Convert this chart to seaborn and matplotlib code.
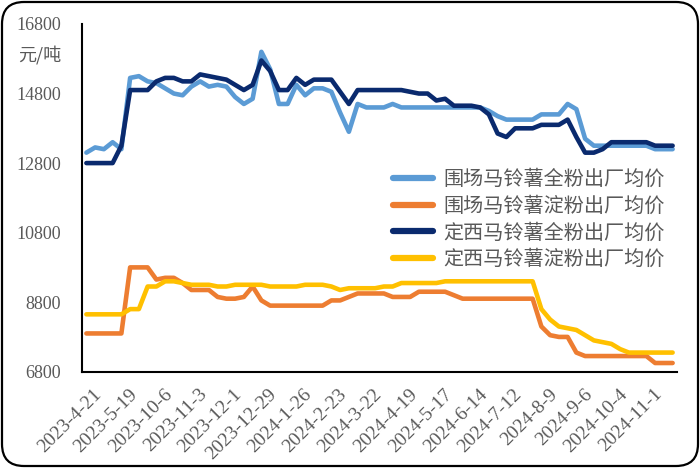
import numpy as np
import pandas as pd
import seaborn as sns
import matplotlib
matplotlib.use("Agg")
import matplotlib.pyplot as plt
from matplotlib.patches import FancyBboxPatch
from matplotlib.transforms import IdentityTransform, ScaledTranslation

dates = [
    "2023-4-21", "2023-4-28", "2023-5-5", "2023-5-12", "2023-5-19", "2023-5-26", "2023-6-2", "2023-9-28",
    "2023-10-6", "2023-10-13", "2023-10-20", "2023-10-27", "2023-11-3", "2023-11-10", "2023-11-17", "2023-11-24",
    "2023-12-1", "2023-12-8", "2023-12-15", "2023-12-22", "2023-12-29", "2024-1-5", "2024-1-12", "2024-1-19",
    "2024-1-26", "2024-2-2", "2024-2-9", "2024-2-16", "2024-2-23", "2024-3-1", "2024-3-8", "2024-3-15",
    "2024-3-22", "2024-3-29", "2024-4-5", "2024-4-12", "2024-4-19", "2024-4-26", "2024-5-3", "2024-5-10",
    "2024-5-17", "2024-5-24", "2024-5-31", "2024-6-7", "2024-6-14", "2024-6-21", "2024-6-28", "2024-7-5",
    "2024-7-12", "2024-7-19", "2024-7-26", "2024-8-2", "2024-8-9", "2024-8-16", "2024-8-23", "2024-8-30",
    "2024-9-6", "2024-9-13", "2024-9-20", "2024-9-27", "2024-10-4", "2024-10-11", "2024-10-18", "2024-10-25",
    "2024-11-1", "2024-11-8", "2024-11-15", "2024-11-22",
]

weichang_full = [
    13100, 13250, 13200, 13400, 13200, 15250, 15300, 15150, 15100, 14950,
    14800, 14750, 15000, 15150, 15000, 15050, 15000, 14700, 14500, 14650,
    16000, 15500, 14500, 14500, 15050, 14750, 14950, 14950, 14850, 14250,
    13700, 14500, 14400, 14400, 14400, 14500, 14400, 14400, 14400, 14400,
    14400, 14400, 14400, 14400, 14400, 14400, 14300, 14150, 14050, 14050,
    14050, 14050, 14200, 14200, 14200, 14500, 14350, 13500, 13300, 13300,
    13300, 13300, 13300, 13300, 13300, 13200, 13200, 13200,
]
weichang_starch = [
    7900, 7900, 7900, 7900, 7900, 9800, 9800, 9800, 9450, 9500,
    9500, 9350, 9150, 9150, 9150, 8950, 8900, 8900, 8950, 9250,
    8850, 8700, 8700, 8700, 8700, 8700, 8700, 8700, 8850, 8850,
    8950, 9050, 9050, 9050, 9050, 8950, 8950, 8950, 9100, 9100,
    9100, 9100, 9000, 8900, 8900, 8900, 8900, 8900, 8900, 8900,
    8900, 8900, 8100, 7850, 7800, 7800, 7350, 7250, 7250, 7250,
    7250, 7250, 7250, 7250, 7250, 7050, 7050, 7050,
]
dingxi_full = [
    12800, 12800, 12800, 12800, 13300, 14900, 14900, 14900, 15150, 15250,
    15250, 15150, 15150, 15350, 15300, 15250, 15200, 15050, 14900, 15050,
    15750, 15450, 14900, 14900, 15250, 15050, 15200, 15200, 15200, 14850,
    14500, 14900, 14900, 14900, 14900, 14900, 14900, 14850, 14800, 14800,
    14600, 14650, 14450, 14450, 14450, 14400, 14200, 13650, 13550, 13800,
    13800, 13800, 13900, 13900, 13900, 14050, 13550, 13100, 13100, 13200,
    13400, 13400, 13400, 13400, 13400, 13300, 13300, 13300,
]
dingxi_starch = [
    8450, 8450, 8450, 8450, 8450, 8600, 8600, 9250, 9250, 9400,
    9400, 9350, 9300, 9300, 9300, 9250, 9250, 9300, 9300, 9300,
    9300, 9250, 9250, 9250, 9250, 9300, 9300, 9300, 9250, 9150,
    9200, 9200, 9200, 9200, 9250, 9250, 9350, 9350, 9350, 9350,
    9350, 9400, 9400, 9400, 9400, 9400, 9400, 9400, 9400, 9400,
    9400, 9400, 8600, 8300, 8100, 8050, 8000, 7850, 7700, 7650,
    7600, 7450, 7350, 7350, 7350, 7350, 7350, 7350,
]

series_names = ["围场马铃薯全粉出厂均价", "围场马铃薯淀粉出厂均价", "定西马铃薯全粉出厂均价", "定西马铃薯淀粉出厂均价"]
series_values = [weichang_full, weichang_starch, dingxi_full, dingxi_starch]
colors = ["#5B9BD5", "#ED7D31", "#0A2A6E", "#FFC000"]
y_ticks = [6800, 8800, 10800, 12800, 14800, 16800]
y_unit = "元/吨"

rows = []
for name, vals in zip(series_names, series_values):
    for i, v in enumerate(vals):
        rows.append({"idx": i, "date": dates[i], "series": name, "value": v})
df = pd.DataFrame(rows)

sns.set_theme(style="white")
plt.rcParams["font.family"] = ["Noto Sans CJK SC", "DejaVu Sans"]

fig = plt.figure(figsize=(7.0, 4.68), dpi=100)
ax = fig.add_axes([82 / 700, 1 - 371.7 / 468, (677 - 82) / 700, (371.7 - 24) / 468])

sns.lineplot(data=df, x="idx", y="value", hue="series", hue_order=series_names,
             palette=colors, linewidth=3.3, sort=False, ax=ax, legend=True)

n = len(dates)
ax.set_xlim(-0.5, n - 0.5)
ax.set_ylim(y_ticks[0], y_ticks[-1])
ax.set_xlabel("")
ax.set_ylabel("")

gray = "#595959"
serif = ["Liberation Serif", "DejaVu Serif"]

ax.set_yticks(y_ticks)
ax.set_yticklabels([str(t) for t in y_ticks], fontfamily=serif, fontsize=13, color=gray)
ax.tick_params(axis="y", direction="in", length=4, width=1.2, color="black", pad=15)

label_pos = list(range(0, n, 4))
ax.set_xticks(label_pos)
ax.set_xticklabels([dates[i] for i in label_pos], fontfamily=serif, fontsize=14, color=gray,
                   rotation=45, ha="right", rotation_mode="anchor", va="top")
ax.tick_params(axis="x", which="major", length=0, pad=10)
offset = ScaledTranslation(7 / 100, 0, fig.dpi_scale_trans)
for lab in ax.get_xticklabels():
    lab.set_transform(lab.get_transform() + offset)
ax.set_xticks(np.arange(-0.5, n, 1.0), minor=True)
ax.tick_params(axis="x", which="minor", direction="in", length=4, width=1.2, color="black")

for s in ["top", "right"]:
    ax.spines[s].set_visible(False)
for s in ["left", "bottom"]:
    ax.spines[s].set_color("black")
    ax.spines[s].set_linewidth(1.5)

leg = ax.legend(loc="upper right", bbox_to_anchor=(1.0, 0.617), frameon=False,
                fontsize=14.5, handlelength=2.0, handletextpad=0.5, labelspacing=0.28,
                borderaxespad=0.2)
for t in leg.get_texts():
    t.set_color(gray)
for h in leg.get_lines():
    h.set_linewidth(4.5)

fig.text(40 / 700, 1 - 55 / 468, y_unit, ha="center", va="center", fontsize=13, color=gray)

border = FancyBboxPatch((2, 2), 696, 464, boxstyle="round,pad=0,rounding_size=22",
                        transform=IdentityTransform(), fill=False, edgecolor="black",
                        linewidth=1.6)
fig.patches.append(border)

fig.savefig("out.png", dpi=100)
